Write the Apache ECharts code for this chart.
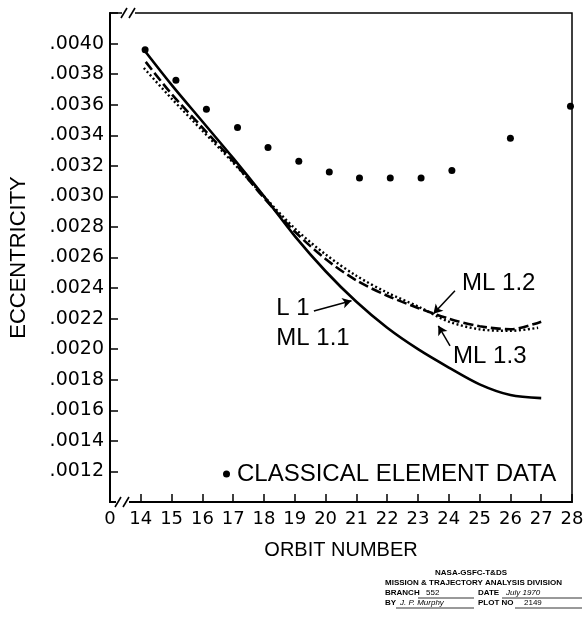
<!DOCTYPE html>
<html>
<head>
<meta charset="utf-8">
<script src="https://cdn.jsdelivr.net/npm/echarts@6/dist/echarts.min.js"></script>
<style>
  html, body { margin: 0; padding: 0; background: #fff; }
  #main { width: 587px; height: 618px; }
</style>
</head>
<body>
<div id="main"></div>
<script>
// classical element data (dots)
var classicalOrbit = [14.14, 15.14, 16.13, 17.14, 18.13, 19.13, 20.12, 21.1, 22.1, 23.1, 24.1, 26.0, 27.95];
var classicalEcc = [0.00396, 0.00376, 0.00357, 0.00345, 0.00332, 0.00323, 0.00316, 0.00312, 0.00312, 0.00312, 0.00317, 0.00338, 0.00359];

// L 1 / ML 1.1 (solid)
var l1Orbit = [14.14, 15, 16, 17, 18, 19, 20, 21, 22, 23, 24, 25, 26, 27];
var l1Ecc = [0.00395, 0.00373, 0.00349, 0.00325, 0.00300, 0.00274, 0.00251, 0.00231, 0.00214, 0.00200, 0.00188, 0.00177, 0.00170, 0.00168];

// ML 1.2 (dashed)
var ml12Orbit = [14.16, 15, 16, 17, 18, 19, 20, 21, 22, 23, 24, 25, 26, 27];
var ml12Ecc = [0.00388, 0.00367, 0.00345, 0.00323, 0.00299, 0.00277, 0.00259, 0.00245, 0.00235, 0.00227, 0.00220, 0.00215, 0.00213, 0.00218];

// ML 1.3 (dotted)
var ml13Orbit = [14.1, 15, 16, 17, 18, 19, 20, 21, 22, 23, 24, 25, 26, 26.9];
var ml13Ecc = [0.00384, 0.00364, 0.00343, 0.00322, 0.00300, 0.00279, 0.00262, 0.00248, 0.00237, 0.00228, 0.00218, 0.00213, 0.00212, 0.00214];

// curve labels and their arrows, in data coords
var curveLabels = ['L 1', 'ML 1.1', 'ML 1.2', 'ML 1.3'];
var curveLabelAt = [[18.40, 0.002264], [18.40, 0.002068], [24.43, 0.002428], [24.14, 0.001950]];
var arrowFrom = [[19.62, 0.002250], [24.20, 0.002382], [24.04, 0.002022]];
var arrowTo = [[20.84, 0.002317], [23.50, 0.002232], [23.66, 0.002153]];

function pairs(xs, ys) {
  var out = [];
  for (var i = 0; i < xs.length; i++) out.push([xs[i], ys[i]]);
  return out;
}

var SANS = "'Liberation Sans', Arial, sans-serif";
var NUM = "'DejaVu Sans', sans-serif";

var chart = echarts.init(document.getElementById('main'));

var arrowData = [];
for (var i = 0; i < arrowFrom.length; i++) {
  arrowData.push([{ coord: arrowFrom[i] }, { coord: arrowTo[i] }]);
}

var option = {
  backgroundColor: '#fff',
  animation: false,
  grid: {
    left: 106, right: 15, top: 13, bottom: 116,
    show: true, borderColor: '#000', borderWidth: 1.5
  },
  legend: {
    data: ['CLASSICAL ELEMENT DATA'],
    left: 218, top: 457,
    icon: 'circle', itemWidth: 7, itemHeight: 7, itemGap: 5,
    itemStyle: { opacity: 1 },
    textStyle: { fontFamily: SANS, fontSize: 24, color: '#000', padding: [0, 0, 0, 2] }
  },
  xAxis: {
    type: 'value', min: 13, max: 28, interval: 1,
    name: 'ORBIT NUMBER', nameLocation: 'middle', nameGap: 38,
    nameTextStyle: { fontFamily: SANS, fontSize: 20, color: '#000' },
    axisLine: { lineStyle: { color: '#000', width: 2 } },
    axisTick: { inside: true, length: 8, lineStyle: { color: '#000', width: 1.5 } },
    splitLine: { show: false },
    axisLabel: {
      fontFamily: NUM, fontSize: 18, color: '#000', margin: 8,
      formatter: function (v) { return Math.round(v) === 13 ? '0' : String(Math.round(v)); }
    }
  },
  yAxis: {
    type: 'value', min: 0.0010, max: 0.0042, interval: 0.0002,
    name: 'ECCENTRICITY', nameLocation: 'middle', nameGap: 80, nameRotate: 90,
    nameTextStyle: { fontFamily: SANS, fontSize: 22, color: '#000' },
    axisLine: { lineStyle: { color: '#000', width: 2 } },
    axisTick: { inside: true, length: 8, lineStyle: { color: '#000', width: 1.5 } },
    splitLine: { show: false },
    axisLabel: {
      fontFamily: NUM, fontSize: 19, color: '#000', margin: 6,
      formatter: function (v) {
        if (v < 0.00115 || v > 0.00415) return '';
        return v.toFixed(4).replace(/^0/, '');
      }
    }
  },
  series: [
    {
      name: 'L 1 / ML 1.1', type: 'line', data: pairs(l1Orbit, l1Ecc),
      smooth: 0.3, showSymbol: false,
      lineStyle: { color: '#000', width: 2.6, type: 'solid' },
      markLine: {
        silent: true, symbol: ['none', 'arrow'], symbolSize: [8, 9],
        label: { show: false },
        lineStyle: { color: '#000', width: 1.5, type: 'solid' },
        data: arrowData
      },
      z: 3
    },
    {
      name: 'ML 1.2', type: 'line', data: pairs(ml12Orbit, ml12Ecc),
      smooth: 0.3, showSymbol: false,
      lineStyle: { color: '#000', width: 2.6, type: [10, 4] },
      z: 3
    },
    {
      name: 'ML 1.3', type: 'line', data: pairs(ml13Orbit, ml13Ecc),
      smooth: 0.3, showSymbol: false,
      lineStyle: { color: '#000', width: 2.4, type: [2, 2.5] },
      z: 3
    },
    {
      name: 'CLASSICAL ELEMENT DATA', type: 'scatter', data: pairs(classicalOrbit, classicalEcc),
      symbol: 'circle', symbolSize: 7,
      itemStyle: { color: '#000', opacity: 1 },
      z: 4
    }
  ]
};

chart.setOption(option);

// annotations and axis-break marks placed from the axes
var g = [];
for (var k = 0; k < curveLabels.length; k++) {
  var p = chart.convertToPixel({ gridIndex: 0 }, curveLabelAt[k]);
  g.push({
    type: 'text', x: p[0], y: p[1], z: 100,
    style: { text: curveLabels[k], font: '24px ' + SANS, fill: '#000', textAlign: 'left', textVerticalAlign: 'middle' }
  });
}

var topLeft = chart.convertToPixel({ gridIndex: 0 }, [13, 0.0042]);
var botLeft = chart.convertToPixel({ gridIndex: 0 }, [13, 0.0010]);

function breakMark(x, y, off) {
  g.push({ type: 'rect', z: 100, shape: { x: x + off, y: y - 2, width: 13, height: 4 }, style: { fill: '#fff' } });
  g.push({ type: 'line', z: 101, shape: { x1: x + off - 1, y1: y + 5, x2: x + off + 5, y2: y - 5 }, style: { stroke: '#000', lineWidth: 1.6 } });
  g.push({ type: 'line', z: 101, shape: { x1: x + off + 7, y1: y + 5, x2: x + off + 13, y2: y - 5 }, style: { stroke: '#000', lineWidth: 1.6 } });
}
breakMark(topLeft[0], topLeft[1], 12);
breakMark(botLeft[0], botLeft[1], 6);

// plot stamp
var stampFont = 'bold 8px ' + SANS;
g.push({ type: 'text', x: 471, y: 573, z: 100, style: { text: 'NASA-GSFC-T&DS', font: stampFont, fill: '#000', textAlign: 'center', textVerticalAlign: 'middle' } });
g.push({ type: 'text', x: 385, y: 583, z: 100, style: { text: 'MISSION & TRAJECTORY ANALYSIS DIVISION', font: stampFont, fill: '#000', textVerticalAlign: 'middle' } });
g.push({ type: 'text', x: 385, y: 593, z: 100, style: { text: 'BRANCH', font: stampFont, fill: '#000', textVerticalAlign: 'middle' } });
g.push({ type: 'text', x: 426, y: 593, z: 100, style: { text: '552', font: '8px ' + SANS, fill: '#000', textVerticalAlign: 'middle' } });
g.push({ type: 'text', x: 478, y: 593, z: 100, style: { text: 'DATE', font: stampFont, fill: '#000', textVerticalAlign: 'middle' } });
g.push({ type: 'text', x: 506, y: 593, z: 100, style: { text: 'July 1970', font: 'italic 8px ' + SANS, fill: '#000', textVerticalAlign: 'middle' } });
g.push({ type: 'text', x: 385, y: 603, z: 100, style: { text: 'BY', font: stampFont, fill: '#000', textVerticalAlign: 'middle' } });
g.push({ type: 'text', x: 400, y: 603, z: 100, style: { text: 'J. P. Murphy', font: 'italic 8px ' + SANS, fill: '#000', textVerticalAlign: 'middle' } });
g.push({ type: 'text', x: 478, y: 603, z: 100, style: { text: 'PLOT NO', font: stampFont, fill: '#000', textVerticalAlign: 'middle' } });
g.push({ type: 'text', x: 524, y: 603, z: 100, style: { text: '2149', font: '8px ' + SANS, fill: '#000', textVerticalAlign: 'middle' } });
g.push({ type: 'line', z: 100, shape: { x1: 418, y1: 598, x2: 474, y2: 598 }, style: { stroke: '#000', lineWidth: 0.8 } });
g.push({ type: 'line', z: 100, shape: { x1: 502, y1: 598, x2: 582, y2: 598 }, style: { stroke: '#000', lineWidth: 0.8 } });
g.push({ type: 'line', z: 100, shape: { x1: 396, y1: 608, x2: 474, y2: 608 }, style: { stroke: '#000', lineWidth: 0.8 } });
g.push({ type: 'line', z: 100, shape: { x1: 515, y1: 608, x2: 582, y2: 608 }, style: { stroke: '#000', lineWidth: 0.8 } });

chart.setOption({ graphic: g });
</script>
</body>
</html>
